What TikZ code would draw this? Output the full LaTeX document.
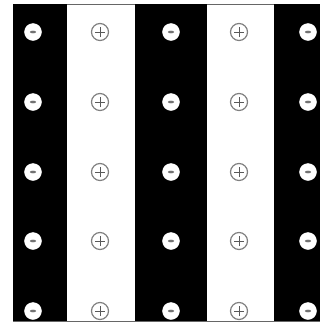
\documentclass[tikz,border=0pt]{standalone}
\begin{document}
\begin{tikzpicture}[x=1pt,y=-1pt,
  blackband/.style={fill=black,draw=none},
  minusion/.style={circle,fill=white,draw=white,minimum size=17pt,inner sep=0pt},
  plusion/.style={circle,fill=white,draw=black!50,line width=1.2pt,minimum size=17pt,inner sep=0pt}]
\useasboundingbox (0,0) rectangle (320,327);
\fill[white] (0,0) rectangle (320,327);
\draw[black!60,line width=0.8pt] (13,4) rectangle (320,321);
\fill[blackband] (13,4) rectangle (67,321);
\fill[blackband] (135,4) rectangle (207,321);
\fill[blackband] (274,4) rectangle (320,321);
\foreach \r/\y in {1/32,2/102,3/172,4/241,5/311}{
  \foreach \c/\x in {1/33,3/171,5/308}{
    \node[minusion] (m\c\r) at (\x,\y) {};
    \fill[black!55] (m\c\r.center) ellipse (3.2pt and 1.3pt);
  }
  \foreach \c/\x in {2/100,4/239}{
    \node[plusion] (p\c\r) at (\x,\y) {};
    \draw[black!65,line width=1pt] ([xshift=-5pt]p\c\r.center) -- ([xshift=5pt]p\c\r.center)
      ([yshift=-5pt]p\c\r.center) -- ([yshift=5pt]p\c\r.center);
  }
}
\end{tikzpicture}
\end{document}
